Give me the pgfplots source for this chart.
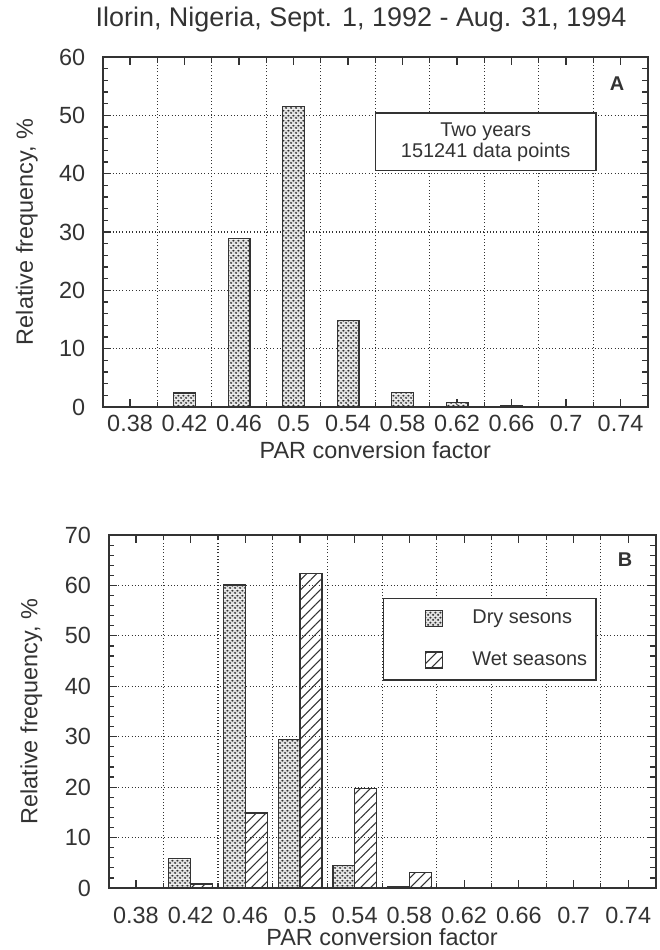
\documentclass[border=0pt]{standalone}
\usepackage{fontspec}
\setmainfont{Liberation Sans}
\usepackage{pgfplots}
\pgfplotsset{compat=1.18}
\usetikzlibrary{patterns,patterns.meta}
\definecolor{ink}{gray}{0.2}

% dense dot stipple on a light grey ground, as in the scanned figure
\tikzdeclarepattern{
  name=stipple, type=colored,
  bounding box={(0pt,0pt) and (2.2pt,2.2pt)},
  tile size={(2.2pt,2.2pt)},
  code={
    \pgfsetfillcolor{black!12}
    \pgfpathrectangle{\pgfpointorigin}{\pgfpoint{2.2pt}{2.2pt}}
    \pgfusepath{fill}
    \pgfsetfillcolor{ink}
    \pgfpathcircle{\pgfpoint{0.55pt}{0.55pt}}{0.5pt}
    \pgfpathcircle{\pgfpoint{1.65pt}{1.65pt}}{0.5pt}
    \pgfusepath{fill}
  }
}

\pgfplotsset{
  parfreq/.style={
    scale only axis,
    xmin=0.36, xmax=0.76, ymin=0,
    xtick={0.38,0.42,0.46,0.5,0.54,0.58,0.62,0.66,0.7,0.74},
    xticklabels={0.38,0.42,0.46,0.5,0.54,0.58,0.62,0.66,0.7,0.74},
    minor xtick={0.40,0.44,0.48,0.52,0.56,0.60,0.64,0.68,0.72},
    xminorgrids, ymajorgrids,
    minor y tick num=4,
    grid style={densely dotted, ink, line width=0.5pt},
    tick style={ink, line width=0.5pt},
    major tick length=0.12cm, minor tick length=0.08cm,
    axis line style={ink, line width=0.8pt},
    tick label style={font=\fontsize{10}{12}\selectfont, text=ink},
    label style={font=\fontsize{10}{12}\selectfont, text=ink},
    yticklabel style={xshift=-0.14cm},
    /pgf/number format/assume math mode=true,
    xlabel={PAR conversion factor},
    ylabel={Relative frequency, \%},
    legend image code/.code={
      \path[draw=none, fill=none] (0cm,0cm) -- (0.825cm,0cm);
      \draw[#1, line width=0.5pt] (0.57cm,-0.12cm) rectangle (0.825cm,0.12cm);
    },
  },
  drybar/.style={ybar, bar width=0.016, draw=ink, line width=0.55pt, pattern={stipple}},
  wetbar/.style={ybar, bar width=0.016, draw=ink, line width=0.55pt,
    pattern={Lines[angle=45, distance=3pt, line width=0.45pt]}, pattern color=ink},
}

\begin{document}
\begin{tikzpicture}
\useasboundingbox (0,0) rectangle (9.9,-14.25);
\node[anchor=base, font=\fontsize{11.5}{13}\selectfont, text=ink] at (5.415,-0.39) {Ilorin, Nigeria, Sept. 1, 1992 - Aug. 31, 1994};

% panel A: both years
\begin{axis}[parfreq, at={(1.542cm,-6.105cm)}, anchor=south west,
  width=8.175cm, height=5.25cm, ymax=60, ytick={0,10,...,60},
  xlabel style={yshift=0.1cm}, ylabel style={yshift=0.08cm}]
\addplot[drybar, bar shift=0] coordinates {
(0.42,2.4) (0.46,28.9) (0.5,51.5) (0.54,14.8) (0.58,2.5) (0.62,0.8) (0.66,0.2)};
\draw[ink, fill=white, line width=0.6pt] (axis cs:0.56,40.5) rectangle (axis cs:0.722,50.4);
\node[align=center, text=ink, font=\fontsize{8.5}{7.8}\selectfont] at (axis cs:0.641,45.4) {Two years\\151241 data points};
\node[text=ink, font=\bfseries\fontsize{8.5}{10}\selectfont] at (axis cs:0.7374,55.4) {A};
\end{axis}

% panel B: dry vs wet seasons
\begin{axis}[parfreq, at={(1.629cm,-13.32cm)}, anchor=south west,
  width=8.205cm, height=5.295cm, ymax=70, ytick={0,10,...,70},
  xticklabel style={yshift=-0.165cm}, xlabel style={yshift=0.165cm},
  ylabel style={yshift=0.1cm},
  legend cell align=left,
  legend style={at={(0.5018,0.8214)}, anchor=north west, draw=ink, line width=0.6pt,
    fill=white, text=ink, font=\fontsize{8.5}{10}\selectfont,
    inner xsep=0.06cm, inner ysep=0.1cm, row sep=0.22cm,
    /tikz/every odd column/.append style={column sep=0.365cm}}]
\addplot[drybar, bar shift=-0.008] coordinates {
(0.42,5.9) (0.46,60.1) (0.5,29.5) (0.54,4.4) (0.58,0.3)};
\addlegendentry{Dry sesons}
\addplot[wetbar, bar shift=0.008] coordinates {
(0.42,0.8) (0.46,14.9) (0.5,62.4) (0.54,19.8) (0.58,3.1)};
\addlegendentry{Wet seasons}
\node[text=ink, font=\bfseries\fontsize{8.5}{10}\selectfont] at (axis cs:0.7376,65.2) {B};
\end{axis}
\end{tikzpicture}
\end{document}
